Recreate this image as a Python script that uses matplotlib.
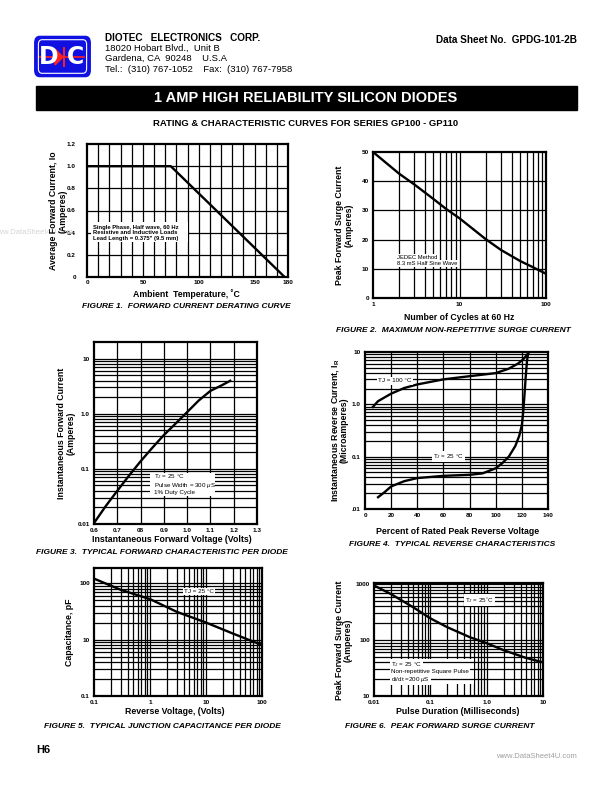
import matplotlib
matplotlib.use("Agg")
import matplotlib.pyplot as plt
from matplotlib.patches import Rectangle, FancyBboxPatch, Polygon
from matplotlib.ticker import FixedLocator, NullFormatter
import numpy as np

plt.rcParams['font.family'] = ['Liberation Sans', 'DejaVu Sans']
plt.rcParams['mathtext.fontset'] = 'custom'
plt.rcParams['mathtext.rm'] = 'Liberation Sans'
plt.rcParams['mathtext.it'] = 'Liberation Sans:italic'
plt.rcParams['mathtext.bf'] = 'Liberation Sans:bold'

# ---------------- data ----------------
# Figure 1: derating
f1_temp = [0, 75, 177]
f1_io = [1.0, 1.0, 0.0]
f1_xticks = [0, 50, 100, 150, 180]
f1_yticks = [0, 0.2, 0.4, 0.6, 0.8, 1.0, 1.2]
f1_yticklabels = ["0", "0.2", "0.4", "0.6", "0.8", "1.0", "1.2"]

# Figure 2: surge vs cycles
f2_cycles = [1, 2, 3, 5, 7, 10, 20, 30, 50, 70, 100]
f2_amps = [50, 42.6, 38.9, 33.9, 30.5, 27.3, 20.2, 16.5, 12.7, 10.6, 8.3]
f2_yticks = [0, 10, 20, 30, 40, 50]

# Figure 3: forward characteristic
f3_vf = [0.6, 0.65, 0.7, 0.75, 0.8, 0.85, 0.9, 0.95, 1.0, 1.05, 1.1, 1.15, 1.185]
f3_if = [0.0104, 0.021, 0.04, 0.075, 0.137, 0.24, 0.41, 0.66, 1.07, 1.74, 2.6, 3.3, 3.96]
f3_xticks = [0.6, 0.7, 0.8, 0.9, 1.0, 1.1, 1.2, 1.3]
f3_xticklabels = ["0.6", "0.7", "08", "0.9", "1.0", "1.1", "1.2", "1.3"]
f3_yticks = [0.01, 0.1, 1.0, 10]
f3_yticklabels = ["0.01", "0.1", "1.0", "10"]

# Figure 4: reverse characteristics
f4_pct_100 = [6, 10, 20, 30, 40, 60, 80, 100, 110, 117, 121, 125]
f4_ir_100 = [0.89, 1.15, 1.6, 2.05, 2.4, 3.0, 3.45, 3.95, 4.8, 6.0, 7.2, 9.6]
f4_pct_25 = [10, 15, 20, 30, 40, 60, 80, 90, 100, 105, 110, 115, 118, 120, 121, 122, 123, 124, 125]
f4_ir_25 = [0.0168, 0.021, 0.027, 0.034, 0.039, 0.043, 0.045, 0.048, 0.06, 0.075, 0.1, 0.16, 0.25, 0.4, 0.7, 1.5, 3.5, 7.0, 10.0]
f4_xticks = [0, 20, 40, 60, 80, 100, 120, 140]
f4_yticks = [0.01, 0.1, 1.0, 10]
f4_yticklabels = [".01", "0.1", "1.0", "10"]

# Figure 5: junction capacitance
f5_v = [0.1, 0.3, 1, 3, 10, 30, 100]
f5_c = [120, 76, 52, 31, 20, 12.8, 8.0]
f5_xticks = [0.1, 1, 10, 100]
f5_xticklabels = ["0.1", "1", "10", "100"]
f5_yticks = [1, 10, 100]
f5_yticklabels = ["0.1", "10", "100"]

# Figure 6: peak forward surge current
f6_t = [0.01, 0.02, 0.05, 0.1, 0.2, 0.5, 1, 2, 5, 10]
f6_a = [950, 665, 385, 245, 170, 113, 88, 66, 48, 40]
f6_xticks = [0.01, 0.1, 1.0, 10]
f6_xticklabels = ["0.01", "0.1", "1.0", "10"]
f6_yticks = [10, 100, 1000]
f6_yticklabels = ["10", "100", "1000"]

# ---------------- layout helpers ----------------
W, H = 612, 792
fig = plt.figure(figsize=(W / 100, H / 100), dpi=100)


def add_ax(l, t, r, b):
    return fig.add_axes([l / W, 1 - b / H, (r - l) / W, (b - t) / H])


def ftext(x, y, s, **kw):
    return fig.text(x / W, 1 - y / H, s, **kw)


GRID_LW = 0.9
SPINE_LW = 1.6
CURVE_LW = 1.7
TICK_FS = 4.6
LABEL_FS = 6.3
CAP_FS = 6.0
ANN_FS = 4.5


def style(ax):
    for s in ax.spines.values():
        s.set_linewidth(SPINE_LW)
        s.set_zorder(10)
    ax.tick_params(which='both', length=0, labelsize=TICK_FS, pad=3)
    for lab in ax.get_xticklabels() + ax.get_yticklabels():
        lab.set_fontweight('bold')


def vgrid(ax, xs, z=1):
    for x in xs:
        ax.axvline(x, color='black', lw=GRID_LW, zorder=z)


def hgrid(ax, ys, z=1):
    for y in ys:
        ax.axhline(y, color='black', lw=GRID_LW, zorder=z)


def logminors(lo_dec, hi_dec):
    out = []
    for d in range(lo_dec, hi_dec + 1):
        for m in range(1, 10):
            out.append(m * 10.0 ** d)
    return out


WB = dict(facecolor='white', edgecolor='none', pad=0.8)

# ---------------- header ----------------
logo = FancyBboxPatch((36 / W, 1 - 75 / H), 53 / W, 37 / H,
                      boxstyle="round,pad=0.002,rounding_size=0.008",
                      transform=fig.transFigure, facecolor='#1010e0',
                      edgecolor='#1010e0', lw=1.0)
fig.patches.append(logo)
inner = FancyBboxPatch((39 / W, 1 - 72.5 / H), 47 / W, 32 / H,
                       boxstyle="round,pad=0.001,rounding_size=0.006",
                       transform=fig.transFigure, facecolor='#1010e0',
                       edgecolor='white', lw=0.8)
fig.patches.append(inner)
ftext(49, 57, "D", color='white', fontsize=17, fontweight='bold', ha='center', va='center',
      family='Liberation Sans Narrow')
ftext(75, 57, "C", color='white', fontsize=17, fontweight='bold', ha='center', va='center',
      family='Liberation Sans Narrow')
fig.lines.append(plt.Line2D([40 / W, 84 / W], [1 - 57 / H, 1 - 57 / H], transform=fig.transFigure,
                            color='#ff2020', lw=1.2))
tri = Polygon([[55 / W, 1 - 49 / H], [55 / W, 1 - 65 / H], [63 / W, 1 - 57 / H]],
              closed=True, transform=fig.transFigure, facecolor='#ff2020', edgecolor='#ff2020')
fig.patches.append(tri)
fig.lines.append(plt.Line2D([64 / W, 64 / W], [1 - 48 / H, 1 - 66 / H], transform=fig.transFigure,
                            color='#ff2020', lw=1.4))

ftext(105, 38, "DIOTEC   ELECTRONICS   CORP.", fontsize=7.2, fontweight='bold', va='center')
ftext(105, 48, "18020 Hobart Blvd.,  Unit B", fontsize=6.8, va='center')
ftext(105, 58, "Gardena, CA  90248    U.S.A", fontsize=6.8, va='center')
ftext(105, 69, "Tel.:  (310) 767-1052    Fax:  (310) 767-7958", fontsize=6.8, va='center')
ftext(577, 40, "Data Sheet No.  GPDG-101-2B", fontsize=7.2, fontweight='bold', va='center', ha='right')

banner = Rectangle((36 / W, 1 - 110 / H), 541 / W, 24 / H, transform=fig.transFigure,
                   facecolor='black', edgecolor='black')
fig.patches.append(banner)
ftext(306, 98, "1 AMP HIGH RELIABILITY SILICON DIODES", fontsize=10.5, fontweight='bold',
      color='white', ha='center', va='center')
ftext(306, 123, "RATING & CHARACTERISTIC CURVES FOR SERIES GP100 - GP110", fontsize=6.8,
      fontweight='bold', ha='center', va='center')

# watermark (faint, partly off the page edge as in the reference)
ftext(-8, 233, "www.DataSheet4U.com", fontsize=5.5, color='#d4d4d4', ha='left', va='center', zorder=0)

# ---------------- Figure 1 ----------------
ax1 = add_ax(87, 144, 288, 277)
ax1.set_xlim(0, 180)
ax1.set_ylim(0, 1.2)
vgrid(ax1, np.arange(10, 180, 10))
hgrid(ax1, f1_yticks[1:-1])
ax1.plot(f1_temp, f1_io, color='black', lw=CURVE_LW, zorder=5, solid_capstyle='butt')
ax1.add_patch(Rectangle((3.5, 0.315), 86.5, 0.18, facecolor='white', edgecolor='none', zorder=3))
ax1.text(5.0, 0.448, "Single Phase, Half wave, 60 Hz", fontsize=4.2, fontweight='bold', zorder=6, va='center')
ax1.text(5.0, 0.398, "Resistive and Inductive Loads", fontsize=4.2, fontweight='bold', zorder=6, va='center')
ax1.text(5.0, 0.348, "Lead Length = 0.375\" (9.5 mm)", fontsize=4.2, fontweight='bold', zorder=6, va='center')
ax1.set_xticks(f1_xticks)
ax1.set_xticklabels([str(v) for v in f1_xticks])
ax1.set_yticks(f1_yticks)
ax1.set_yticklabels(f1_yticklabels)
style(ax1)
ax1.tick_params(axis='y', pad=8)
ax1.tick_params(axis='x', pad=2)
ftext(54, 211, "Average Forward Current, Io", fontsize=LABEL_FS, fontweight='bold', rotation=90,
      ha='center', va='center')
ftext(63, 211, "(Amperes)", fontsize=LABEL_FS, fontweight='bold', rotation=90, ha='center', va='center')
ftext(186, 294, "Ambient  Temperature, ˚C", fontsize=LABEL_FS, fontweight='bold', ha='center', va='center')
ftext(186, 307, "FIGURE 1.  FORWARD CURRENT DERATING CURVE", fontsize=CAP_FS, fontweight='bold',
      style='italic', ha='center', va='center')

# ---------------- Figure 2 ----------------
ax2 = add_ax(373, 152, 546, 298)
ax2.set_xscale('log')
ax2.set_xlim(1, 100)
ax2.set_ylim(0, 50)
vgrid(ax2, [2, 3, 4, 5, 6, 7, 8, 9, 10, 20, 30, 40, 50, 60, 70, 80, 90])
hgrid(ax2, f2_yticks[1:-1])
ax2.plot(f2_cycles, f2_amps, color='black', lw=CURVE_LW, zorder=5)
ax2.text(1.9, 13.9, "JEDEC Method", fontsize=4.2, zorder=6, va='center', bbox=WB)
ax2.text(1.9, 11.9, "8.3 mS Half Sine Wave", fontsize=4.2, zorder=6, va='center', bbox=WB)
ax2.xaxis.set_major_locator(FixedLocator([1, 10, 100]))
ax2.xaxis.set_minor_formatter(NullFormatter())
ax2.set_xticklabels(["1", "10", "100"])
ax2.set_yticks(f2_yticks)
ax2.set_yticklabels([str(v) for v in f2_yticks])
style(ax2)
ftext(340, 225, "Peak Forward Surge Current", fontsize=LABEL_FS, fontweight='bold', rotation=90,
      ha='center', va='center')
ftext(349, 225, "(Amperes)", fontsize=LABEL_FS, fontweight='bold', rotation=90, ha='center', va='center')
ftext(459, 317, "Number of Cycles at 60 Hz", fontsize=LABEL_FS, fontweight='bold', ha='center', va='center')
ftext(453, 331, "FIGURE 2.  MAXIMUM NON-REPETITIVE SURGE CURRENT", fontsize=CAP_FS, fontweight='bold',
      style='italic', ha='center', va='center')

# ---------------- Figure 3 ----------------
ax3 = add_ax(94, 342, 257, 524)
ax3.set_yscale('log')
ax3.set_xlim(0.6, 1.3)
ax3.set_ylim(0.01, 20)
vgrid(ax3, f3_xticks[1:-1])
hgrid(ax3, [v for v in logminors(-2, 1) if 0.01 < v < 20])
ax3.add_patch(Rectangle((0.84, 0.032), 0.28, 0.052, facecolor='white', edgecolor='none', zorder=3))
ax3.text(0.857, 0.0738, "T$_J$ = 25 °C", fontsize=ANN_FS, zorder=6, va='center')
ax3.text(0.857, 0.0507, "Pulse Width = 300 $\\mu$S", fontsize=ANN_FS, zorder=6, va='center')
ax3.text(0.857, 0.0375, "1% Duty Cycle", fontsize=ANN_FS, zorder=6, va='center')
ax3.plot(f3_vf, f3_if, color='black', lw=CURVE_LW, zorder=5)
ax3.xaxis.set_major_locator(FixedLocator(f3_xticks))
ax3.set_xticklabels(f3_xticklabels)
ax3.yaxis.set_major_locator(FixedLocator(f3_yticks))
ax3.yaxis.set_minor_formatter(NullFormatter())
ax3.set_yticklabels(f3_yticklabels)
style(ax3)
ftext(62, 433, "Instantaneous Forward Current", fontsize=LABEL_FS, fontweight='bold', rotation=90,
      ha='center', va='center')
ftext(71, 433, "(Amperes)", fontsize=LABEL_FS, fontweight='bold', rotation=90, ha='center', va='center')
ftext(172, 539, "Instantaneous Forward Voltage (Volts)", fontsize=LABEL_FS, fontweight='bold',
      ha='center', va='center')
ftext(162, 552, "FIGURE 3.  TYPICAL FORWARD CHARACTERISTIC PER DIODE", fontsize=CAP_FS, fontweight='bold',
      style='italic', ha='center', va='center')

# ---------------- Figure 4 ----------------
ax4 = add_ax(365, 352, 548, 509)
ax4.set_yscale('log')
ax4.set_xlim(0, 140)
ax4.set_ylim(0.01, 10)
vgrid(ax4, f4_xticks[1:-1])
hgrid(ax4, [v for v in logminors(-2, 0) if 0.01 < v < 10])
ax4.plot(f4_pct_100, f4_ir_100, color='black', lw=CURVE_LW, zorder=5)
ax4.plot(f4_pct_25, f4_ir_25, color='black', lw=CURVE_LW, zorder=5)
ax4.text(10, 2.8, "TJ = 100 °C", fontsize=ANN_FS, zorder=6, va='center', bbox=WB)
ax4.text(52, 0.1, "T$_J$ = 25 °C", fontsize=ANN_FS, zorder=6, va='center', bbox=WB)
ax4.set_xticks(f4_xticks)
ax4.set_xticklabels([str(v) for v in f4_xticks])
ax4.yaxis.set_major_locator(FixedLocator(f4_yticks))
ax4.yaxis.set_minor_formatter(NullFormatter())
ax4.set_yticklabels(f4_yticklabels)
style(ax4)
ftext(335, 430, "Instantaneous Reverse Current, I$_\\mathbf{R}$", fontsize=LABEL_FS, fontweight='bold',
      rotation=90, ha='center', va='center')
ftext(344, 430, "(Microamperes)", fontsize=LABEL_FS, fontweight='bold', rotation=90, ha='center', va='center')
ftext(458, 532, "Percent of Rated Peak Reverse Voltage", fontsize=LABEL_FS, fontweight='bold',
      ha='center', va='center')
ftext(452, 544, "FIGURE 4.  TYPICAL REVERSE CHARACTERISTICS", fontsize=CAP_FS, fontweight='bold',
      style='italic', ha='center', va='center')

# ---------------- Figure 5 ----------------
ax5 = add_ax(94, 568, 262, 696)
ax5.set_xscale('log')
ax5.set_yscale('log')
ax5.set_xlim(0.1, 100)
ax5.set_ylim(1, 185)
vgrid(ax5, [v for v in logminors(-1, 1) if 0.1 < v < 100])
hgrid(ax5, [v for v in logminors(0, 2) if 1 < v < 185])
ax5.plot(f5_v, f5_c, color='black', lw=CURVE_LW, zorder=5)
ax5.text(7.5, 70, "TJ = 25 °C", fontsize=ANN_FS, zorder=6, va='center', ha='center', bbox=WB)
ax5.xaxis.set_major_locator(FixedLocator(f5_xticks))
ax5.xaxis.set_minor_formatter(NullFormatter())
ax5.set_xticklabels(f5_xticklabels)
ax5.yaxis.set_major_locator(FixedLocator(f5_yticks))
ax5.yaxis.set_minor_formatter(NullFormatter())
ax5.set_yticklabels(f5_yticklabels)
style(ax5)
ftext(70, 632, "Capacitance, pF", fontsize=LABEL_FS, fontweight='bold', rotation=90, ha='center', va='center')
ftext(175, 712, "Reverse Voltage, (Volts)", fontsize=LABEL_FS, fontweight='bold', ha='center', va='center')
ftext(162, 727, "FIGURE 5.  TYPICAL JUNCTION CAPACITANCE PER DIODE", fontsize=CAP_FS, fontweight='bold',
      style='italic', ha='center', va='center')

# ---------------- Figure 6 ----------------
ax6 = add_ax(374, 583, 543, 696)
ax6.set_xscale('log')
ax6.set_yscale('log')
ax6.set_xlim(0.01, 10)
ax6.set_ylim(10, 1050)
vgrid(ax6, [v for v in logminors(-2, 0) if 0.01 < v < 10], z=1)
ax6.add_patch(Rectangle((0.0101, 16.5), 0.58, 29, facecolor='white', edgecolor='none', zorder=2))
hgrid(ax6, [v for v in logminors(1, 3) if 10 < v < 1050], z=3)
ax6.plot(f6_t, f6_a, color='black', lw=CURVE_LW, zorder=5)
ax6.text(0.75, 520, "T$_J$ = 25˚C", fontsize=ANN_FS, zorder=6, va='center', ha='center', bbox=WB)
ax6.text(0.02, 37, "T$_J$ = 25 °C", fontsize=ANN_FS, zorder=6, va='center', bbox=WB)
ax6.text(0.02, 27.7, "Non-repetitive Square Pulse", fontsize=ANN_FS, zorder=6, va='center', bbox=WB)
ax6.text(0.02, 19.5, "di/dt =200 $\\mu$S", fontsize=ANN_FS, zorder=6, va='center', bbox=WB)
ax6.xaxis.set_major_locator(FixedLocator(f6_xticks))
ax6.xaxis.set_minor_formatter(NullFormatter())
ax6.set_xticklabels(f6_xticklabels)
ax6.yaxis.set_major_locator(FixedLocator(f6_yticks))
ax6.yaxis.set_minor_formatter(NullFormatter())
ax6.set_yticklabels(f6_yticklabels)
style(ax6)
ftext(339, 640, "Peak Forward Surge Current", fontsize=LABEL_FS, fontweight='bold', rotation=90,
      ha='center', va='center')
ftext(348, 640, "(Amperes)", fontsize=LABEL_FS, fontweight='bold', rotation=90, ha='center', va='center')
ftext(458, 712, "Pulse Duration (Milliseconds)", fontsize=LABEL_FS, fontweight='bold', ha='center', va='center')
ftext(440, 727, "FIGURE 6.  PEAK FORWARD SURGE CURRENT", fontsize=CAP_FS, fontweight='bold',
      style='italic', ha='center', va='center')

# ---------------- footer ----------------
ftext(36, 750, "H6", fontsize=8, fontweight='bold', va='center')
ftext(577, 757, "www.DataSheet4U.com", fontsize=5.5, color='#a0a0a0', va='center', ha='right')

fig.savefig("out.png", dpi=100)
